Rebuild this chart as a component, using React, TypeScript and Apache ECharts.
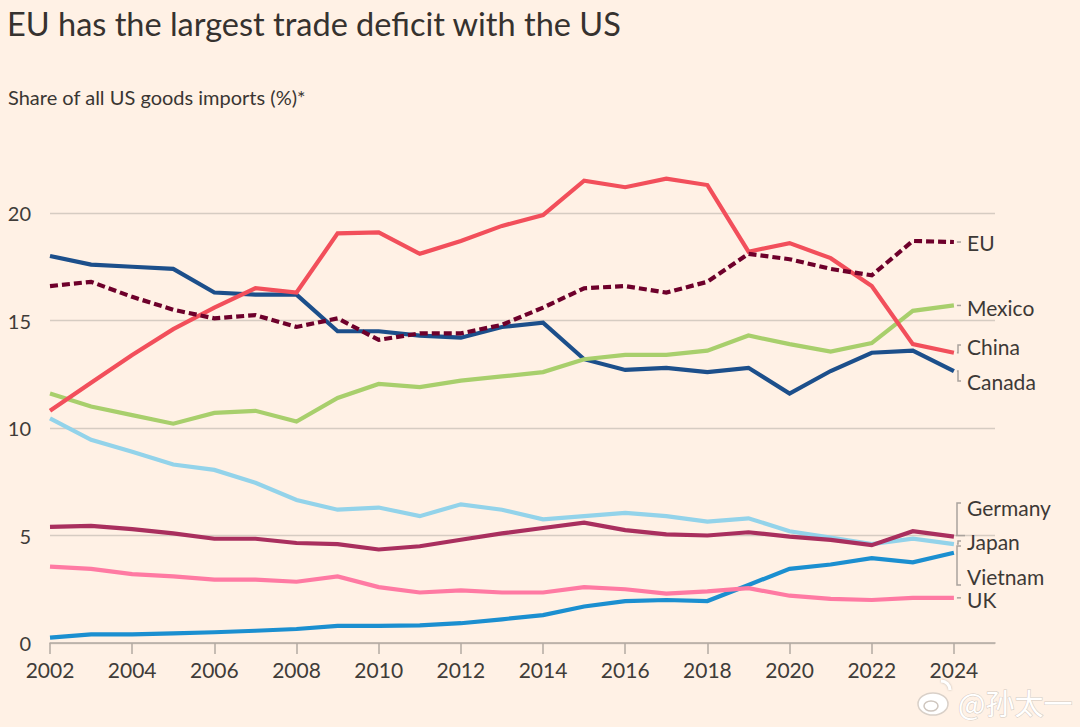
import React, { useEffect, useRef } from 'react';
import * as echarts from 'echarts';

const years = ['2002','2003','2004','2005','2006','2007','2008','2009','2010','2011','2012','2013','2014','2015','2016','2017','2018','2019','2020','2021','2022','2023','2024'];
const axisCategories = [...years, '2025'];
const yTicks = [0, 5, 10, 15, 20];

const china = [10.8,12.1,13.4,14.6,15.6,16.5,16.3,19.05,19.1,18.1,18.7,19.4,19.9,21.5,21.2,21.6,21.3,18.2,18.6,17.9,16.6,13.9,13.5];
const eu = [16.6,16.8,16.1,15.5,15.1,15.25,14.7,15.1,14.1,14.4,14.4,14.8,15.6,16.5,16.6,16.3,16.8,18.1,17.85,17.4,17.1,18.7,18.65];
const canada = [18.0,17.6,17.5,17.4,16.3,16.2,16.2,14.5,14.5,14.3,14.2,14.7,14.9,13.2,12.7,12.8,12.6,12.8,11.6,12.65,13.5,13.6,12.65];
const mexico = [11.6,11.0,10.6,10.2,10.7,10.8,10.3,11.4,12.05,11.9,12.2,12.4,12.6,13.2,13.4,13.4,13.6,14.3,13.9,13.55,13.95,15.45,15.7];
const japan = [10.45,9.45,8.9,8.3,8.05,7.45,6.65,6.2,6.3,5.9,6.45,6.2,5.75,5.9,6.05,5.9,5.65,5.8,5.2,4.9,4.6,4.85,4.6];
const germany = [5.4,5.45,5.3,5.1,4.85,4.85,4.65,4.6,4.35,4.5,4.8,5.1,5.35,5.6,5.25,5.05,5.0,5.15,4.95,4.8,4.55,5.2,4.95];
const uk = [3.55,3.45,3.2,3.1,2.95,2.95,2.85,3.1,2.6,2.35,2.45,2.35,2.35,2.6,2.5,2.3,2.4,2.55,2.2,2.05,2.0,2.1,2.1];
const vietnam = [0.25,0.4,0.4,0.45,0.5,0.57,0.65,0.8,0.8,0.82,0.92,1.1,1.3,1.7,1.95,2.0,1.95,2.7,3.45,3.65,3.95,3.75,4.2];

const seriesNames = ['Vietnam','UK','Japan','Germany','Canada','Mexico','China','EU'];
const seriesData = [vietnam, uk, japan, germany, canada, mexico, china, eu];
const seriesColors = ['#1b8fd0','#ff7aa3','#93d3ea','#a92f5e','#1c4f8b','#a8cf6c','#f24f5b','#6e002b'];

const FONT = 'Lato, "Open Sans", sans-serif';
const TEXT = '#403c39';

export default function App() {
  const ref = useRef<HTMLDivElement>(null);
  useEffect(() => {
    const chart = echarts.init(ref.current!, null, { renderer: 'svg' });
    const series: any[] = seriesNames.map((name, i) => ({
      name,
      type: 'line',
      data: seriesData[i],
      symbol: 'none',
      clip: false,
      lineStyle: {
        color: seriesColors[i],
        width: 4.2,
        type: name === 'EU' ? [8, 4] : 'solid',
        cap: 'butt',
        join: 'miter'
      },
      emphasis: { disabled: true }
    }));
    chart.setOption({
      animation: false,
      backgroundColor: '#fff1e5',
      textStyle: { fontFamily: FONT },
      grid: { left: 50, right: 85, top: 213, bottom: 84, containLabel: false },
      xAxis: {
        type: 'category',
        data: axisCategories,
        boundaryGap: false,
        axisLine: { lineStyle: { color: '#b3aaa2', width: 1.5 } },
        axisTick: { interval: 1, length: 11, lineStyle: { color: '#b3aaa2', width: 1.5 } },
        axisLabel: { interval: 1, margin: 16, fontSize: 21, color: TEXT, fontFamily: FONT },
        splitLine: { show: false }
      },
      yAxis: {
        type: 'value',
        min: yTicks[0],
        max: yTicks[yTicks.length - 1],
        interval: 5,
        axisLine: { show: false },
        axisTick: { show: false },
        axisLabel: { align: 'right', margin: 19, fontSize: 20, color: TEXT, fontFamily: FONT },
        splitLine: { lineStyle: { color: '#d6ccc2', width: 1.3 } }
      },
      series
    });

    const idx = years.length - 1;
    const end = (arr: number[]) => chart.convertToPixel({ gridIndex: 0 }, [idx, arr[idx]]) as number[];
    const lc = '#aaa39d';
    const lw = 1.5;
    const labelX = 967;
    const labels: [string, number][] = [
      ['EU', 242], ['Mexico', 307], ['China', 346], ['Canada', 381],
      ['Germany', 507], ['Japan', 541], ['Vietnam', 576], ['UK', 599]
    ];
    const graphics: any[] = [
      { type: 'text', left: 7, top: 7, style: { text: 'EU has the largest trade deficit with the US', font: `400 32.5px ${FONT}`, fill: '#36322f' } },
      { type: 'text', left: 8, top: 87, style: { text: 'Share of all US goods imports (%)*', font: `20px ${FONT}`, fill: '#3a3633' } }
    ];
    labels.forEach(([t, y]) => {
      graphics.push({ type: 'text', x: labelX, y, style: { text: t, font: `21px ${FONT}`, fill: '#3d3936', verticalAlign: 'middle', textAlign: 'left' } });
    });
    const pl = (pts: number[][]) => ({ type: 'polyline', shape: { points: pts }, style: { stroke: lc, lineWidth: lw, fill: null } });
    const pEU = end(eu), pMx = end(mexico), pCn = end(china), pCa = end(canada);
    const pDe = end(germany), pJp = end(japan), pVn = end(vietnam), pUk = end(uk);
    graphics.push(pl([[pEU[0] + 3, pEU[1]], [961, pEU[1]]]));
    graphics.push(pl([[pMx[0] + 3, pMx[1]], [961, pMx[1]]]));
    graphics.push(pl([[pUk[0] + 3, pUk[1]], [961, pUk[1]]]));
    graphics.push(pl([[pCn[0] + 3, pCn[1]], [958, pCn[1]], [958, 345], [961, 345]]));
    graphics.push(pl([[pCa[0] + 3, pCa[1]], [958, pCa[1]], [958, 381], [961, 381]]));
    graphics.push(pl([[961, 503], [957, 503], [957, pDe[1] - 1]]));
    graphics.push(pl([[pDe[0] + 2, pDe[1] - 1], [965, pDe[1] - 1]]));
    graphics.push(pl([[pJp[0] + 3, pJp[1]], [958, pJp[1]], [958, 541], [961, 541]]));
    graphics.push(pl([[961, 546], [957, 546], [957, 585], [961, 585]]));
    graphics.push(pl([[pVn[0] + 3, pVn[1]], [957, pVn[1]]]));
    // watermark
    graphics.push({ type: 'ellipse', shape: { cx: 933, cy: 704, rx: 15, ry: 11 }, style: { fill: '#ffffff', stroke: '#d9d0c8', lineWidth: 1.5 } });
    graphics.push({ type: 'ellipse', shape: { cx: 931, cy: 706, rx: 7, ry: 5 }, style: { fill: '#ffffff', stroke: '#cfc6be', lineWidth: 1.5 } });
    graphics.push({ type: 'arc', shape: { cx: 941, cy: 690, r: 9, startAngle: -Math.PI * 0.5, endAngle: 0 }, style: { stroke: '#ffffff', lineWidth: 3, fill: null, shadowBlur: 2, shadowColor: '#bfb6ae' } });
    graphics.push({ type: 'text', x: 958, y: 702, style: { text: '@孙太一', font: `29px "Noto Sans CJK SC", sans-serif`, fill: '#ffffff', stroke: '#d2c9c1', lineWidth: 1, verticalAlign: 'middle' } });
    chart.setOption({ graphic: graphics });
    return () => chart.dispose();
  }, []);
  return <div ref={ref} style={{ position: 'fixed', left: 0, top: 0, width: 1080, height: 727 }} />;
}
